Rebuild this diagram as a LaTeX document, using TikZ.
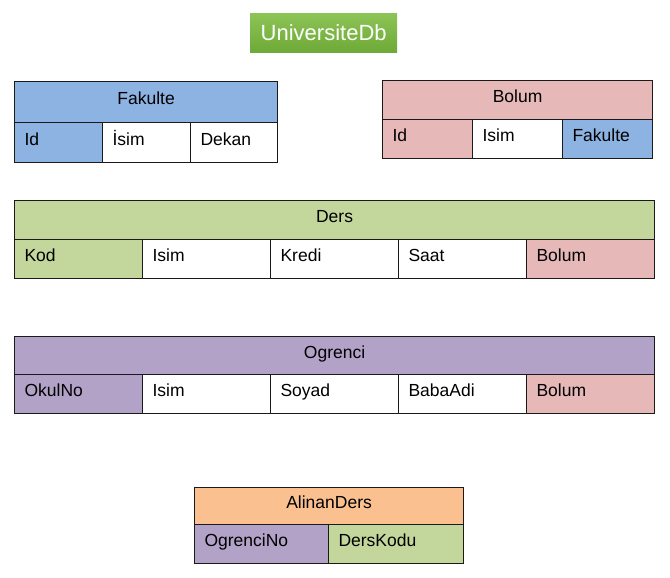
\documentclass[tikz,border=0pt]{standalone}
\usepackage{fontspec}
\setmainfont{Liberation Sans}
\definecolor{cblue}{HTML}{8DB3E2}
\definecolor{cpink}{HTML}{E6B9B8}
\definecolor{cgreen}{HTML}{C3D69B}
\definecolor{cpurple}{HTML}{B3A2C7}
\definecolor{corange}{HTML}{FAC090}
\definecolor{ttop}{HTML}{8CC455}
\definecolor{tbot}{HTML}{6EAA38}
\definecolor{bord}{HTML}{1A1A1A}
\tikzset{
  cellbox/.style={draw=bord, line width=1.1pt, anchor=north west, inner xsep=10pt, inner ysep=0pt,
    font=\fontsize{17.5}{20}\selectfont, align=left, text height=13pt, text depth=8pt, fill=white},
  headbox/.style={draw=bord, line width=1.1pt, anchor=north west, inner sep=0pt,
    font=\fontsize{17.5}{20}\selectfont, align=center, text height=13pt, text depth=8pt},
}
\begin{document}
\begin{tikzpicture}[x=1pt,y=-1pt]
\useasboundingbox (0,0) rectangle (670,578);
% title
\node[anchor=north west, minimum width=147pt, minimum height=39pt, inner sep=0pt,
  top color=ttop, bottom color=tbot, text=white, font=\fontsize{22}{24}\selectfont] (title) at (250,13) {UniversiteDb};
% Fakulte
\node[headbox, fill=cblue, minimum width=263pt, minimum height=41pt] (fak) at (14,81) {Fakulte};
\node[cellbox, fill=cblue, text width=68pt, minimum height=40pt] (fakid) at (14,122) {Id};
\node[cellbox, text width=68pt, minimum height=40pt] (fakisim) at (102,122) {İsim};
\node[cellbox, text width=67pt, minimum height=40pt] (fakdekan) at (190,122) {Dekan};
% Bolum
\node[headbox, fill=cpink, minimum width=270pt, minimum height=39pt] (bol) at (382,80) {Bolum};
\node[cellbox, fill=cpink, text width=70pt, minimum height=39pt] (bolid) at (382,119) {Id};
\node[cellbox, text width=70pt, minimum height=39pt] (bolisim) at (472,119) {Isim};
\node[cellbox, fill=cblue, text width=70pt, minimum height=39pt] (bolfak) at (562,119) {Fakulte};
% Ders
\node[headbox, fill=cgreen, minimum width=640pt, minimum height=39pt] (ders) at (14,200) {Ders};
\node[cellbox, fill=cgreen, text width=108pt, minimum height=39pt] (derskod) at (14,239) {Kod};
\node[cellbox, text width=108pt, minimum height=39pt] (dersisim) at (142,239) {Isim};
\node[cellbox, text width=108pt, minimum height=39pt] (derskredi) at (270,239) {Kredi};
\node[cellbox, text width=108pt, minimum height=39pt] (derssaat) at (398,239) {Saat};
\node[cellbox, fill=cpink, text width=108pt, minimum height=39pt] (dersbolum) at (526,239) {Bolum};
% Ogrenci
\node[headbox, fill=cpurple, minimum width=640pt, minimum height=38pt] (ogr) at (14,336) {Ogrenci};
\node[cellbox, fill=cpurple, text width=108pt, minimum height=39pt] (ogrno) at (14,374) {OkulNo};
\node[cellbox, text width=108pt, minimum height=39pt] (ogrisim) at (142,374) {Isim};
\node[cellbox, text width=108pt, minimum height=39pt] (ogrsoyad) at (270,374) {Soyad};
\node[cellbox, text width=108pt, minimum height=39pt] (ogrbaba) at (398,374) {BabaAdi};
\node[cellbox, fill=cpink, text width=108pt, minimum height=39pt] (ogrbolum) at (526,374) {Bolum};
% AlinanDers
\node[headbox, fill=corange, minimum width=269pt, minimum height=37pt] (al) at (194,487) {AlinanDers};
\node[cellbox, fill=cpurple, text width=114pt, minimum height=39pt] (alogr) at (194,524) {OgrenciNo};
\node[cellbox, fill=cgreen, text width=115pt, minimum height=39pt] (alders) at (328,524) {DersKodu};
\end{tikzpicture}
\end{document}
